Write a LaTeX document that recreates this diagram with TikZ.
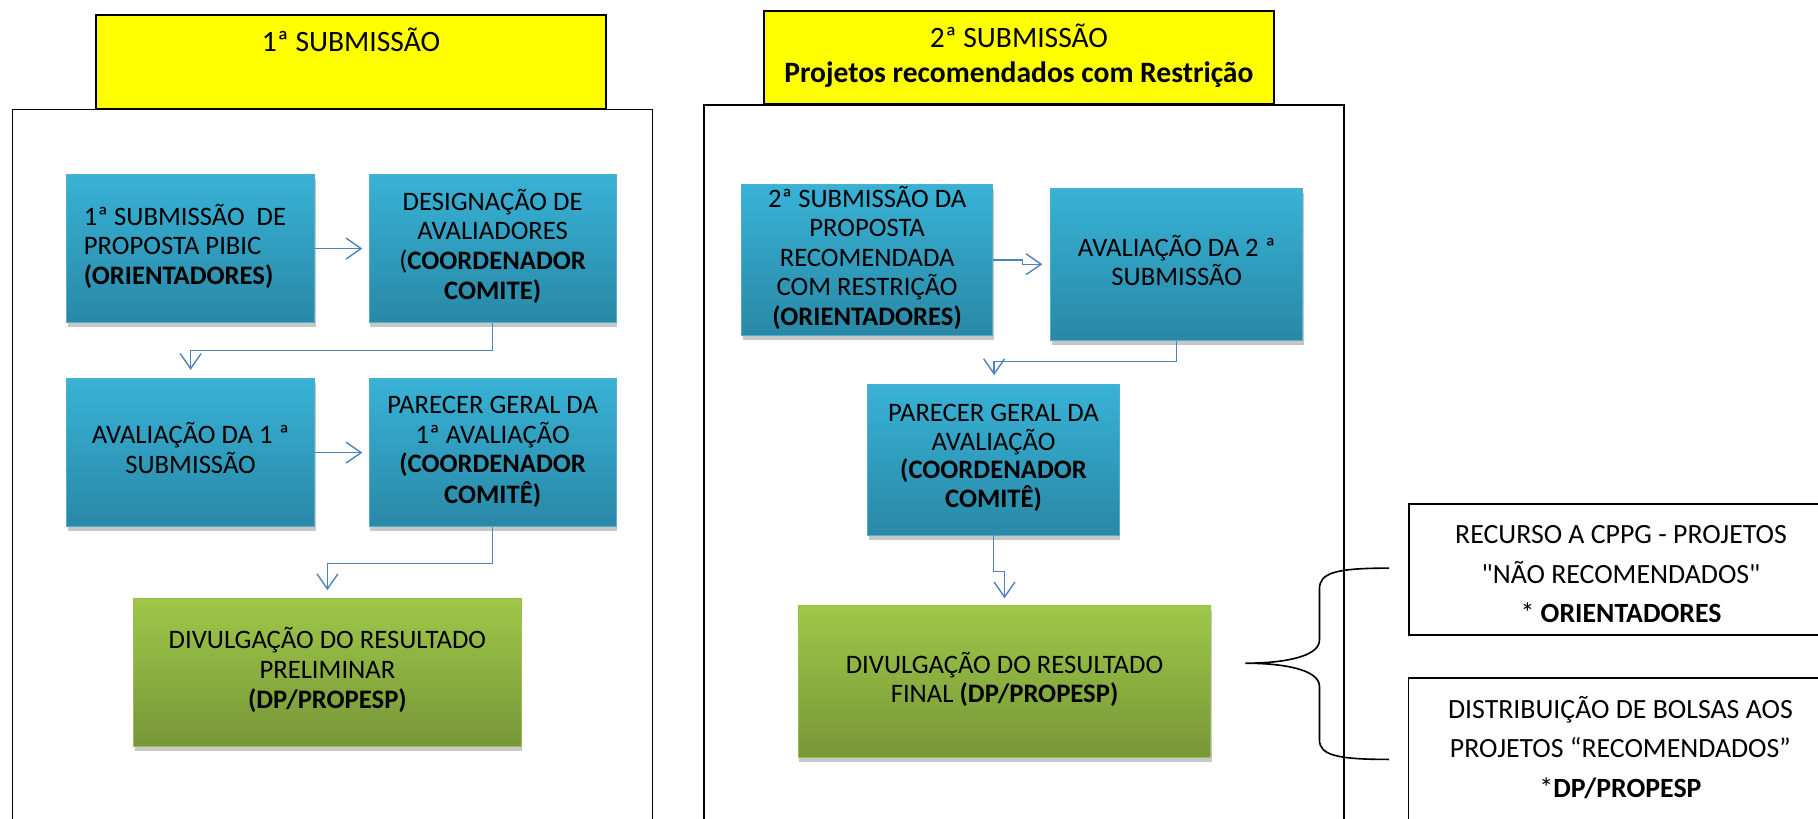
\documentclass[tikz,border=0pt]{standalone}
\usepackage{fontspec}
\newfontfamily\calfont{Carlito}
\usetikzlibrary{arrows.meta,shadows,calc}
\definecolor{btop}{RGB}{56,178,214}
\definecolor{bbot}{RGB}{41,136,166}
\definecolor{bedge}{RGB}{80,176,202}
\definecolor{gtop}{RGB}{158,199,72}
\definecolor{gbot}{RGB}{119,150,56}
\definecolor{gedge}{RGB}{155,190,80}
\definecolor{arrc}{RGB}{79,129,189}
\definecolor{hyellow}{RGB}{255,255,0}
\newcommand{\tb}[2][0pt]{\raisebox{#1}[\height][\depth]{\begin{tabular}{@{}c@{}}#2\end{tabular}}}
\newcommand{\tbl}[2]{\makebox[#1][l]{\begin{tabular}{@{}l@{}}#2\end{tabular}}}
\begin{document}
\begin{tikzpicture}[x=1pt,y=-1pt,
  every node/.style={font=\calfont\fontsize{23}{25.5}\selectfont, text=black},
  procbox/.style={anchor=north west, inner sep=0pt, line width=0.8pt,
    drop shadow={shadow xshift=1pt, shadow yshift=-4pt, opacity=0.22, fill=black}},
  bluebox/.style={procbox, draw=bedge, top color=btop, bottom color=bbot},
  greenbox/.style={procbox, draw=gedge, top color=gtop, bottom color=gbot},
  ybox/.style={draw=black, line width=1.6pt, fill=hyellow, anchor=north west, inner sep=0pt,
    font=\calfont\fontsize{25.5}{30.7}\selectfont},
  framebox/.style={draw=black, line width=1.3pt, anchor=north west, inner sep=0pt},
  wbox/.style={draw=black, line width=1.2pt, fill=white, anchor=north west, inner sep=0pt,
    font=\calfont\fontsize{24}{34}\selectfont},
  arr/.style={draw=arrc, line width=1.2pt, -{Straight Barb[length=13pt,width=18pt]}},
  bracel/.style={draw=black, line width=1.4pt}
]
\useasboundingbox (0,0) rectangle (1568,706);
\clip (0,0) rectangle (1568,706);
\fill[white] (0,0) rectangle (1568,706);

% frames
\node[framebox, minimum width=552, minimum height=700] (fr1) at (10,94) {};
\node[framebox, minimum width=552, minimum height=700] (fr2) at (606.5,90) {};

% headers
\node[ybox, minimum width=440, minimum height=81] (y1) at (82,12) {\tb[15pt]{1ª SUBMISSÃO}};
\node[ybox, minimum width=440, minimum height=80] (y2) at (658,9) {\tb{2ª SUBMISSÃO\\ \bfseries Projetos recomendados com Restrição}};

% left panel
\node[bluebox, minimum width=214, minimum height=128] (a1) at (57,150)
  {\tbl{184pt}{1ª SUBMISSÃO\ \ DE\\ PROPOSTA PIBIC\\ \textbf{(ORIENTADORES)}}};
\node[bluebox, minimum width=213, minimum height=128] (a2) at (318,150)
  {\tb{DESIGNAÇÃO DE\\ AVALIADORES\\ (\textbf{COORDENADOR}\\ \textbf{COMITE)}}};
\node[bluebox, minimum width=214, minimum height=128] (b1) at (57,326)
  {\tb{AVALIAÇÃO DA 1 ª\\ SUBMISSÃO}};
\node[bluebox, minimum width=213, minimum height=128] (b2) at (318,326)
  {\tb{PARECER GERAL DA\\ 1ª AVALIAÇÃO\\ \textbf{(COORDENADOR}\\ \textbf{COMITÊ)}}};
\node[greenbox, minimum width=334, minimum height=127] (c) at (115,516)
  {\tb{DIVULGAÇÃO DO RESULTADO\\ PRELIMINAR\\ \textbf{(DP/PROPESP)}}};

% right panel
\node[bluebox, minimum width=217, minimum height=130] (d1) at (639,159)
  {\def\arraystretch{0.985}\tb{2ª SUBMISSÃO DA\\ PROPOSTA\\ RECOMENDADA\\ COM RESTRIÇÃO\\ \textbf{(ORIENTADORES)}}};
\node[bluebox, minimum width=217, minimum height=131] (d2) at (906,162)
  {\def\arraystretch{0.85}\tb{AVALIAÇÃO DA 2 ª\\ SUBMISSÃO}};
\node[bluebox, minimum width=217, minimum height=130] (e) at (748,331)
  {\def\arraystretch{0.88}\tb{PARECER GERAL DA\\ AVALIAÇÃO\\ \textbf{(COORDENADOR}\\ \textbf{COMITÊ)}}};
\node[greenbox, minimum width=356, minimum height=131] (f) at (688,522)
  {\def\arraystretch{0.98}\tb{DIVULGAÇÃO DO RESULTADO\\ FINAL \textbf{(DP/PROPESP)}}};

% outcome boxes
\node[wbox, minimum width=366, minimum height=113] (g) at (1214.5,434)
  {\tb[-5pt]{RECURSO A CPPG - PROJETOS\\ "NÃO RECOMENDADOS"\\ {*} \textbf{ORIENTADORES}}};
\node[wbox, minimum width=366, minimum height=124] (h) at (1214,584)
  {\tb{DISTRIBUIÇÃO DE BOLSAS AOS\\ PROJETOS “RECOMENDADOS”\\ {*}\textbf{DP/PROPESP}}};

% connectors
\draw[arr, shorten >=5.5pt] (a1) -- (a2);
\draw[arr] (a2.south) -- ++(0,23.5) -| ([yshift=7pt]b1.north);
\draw[arr, shorten >=5.5pt] (b1) -- (b2);
\draw[arr] (b2.south) -- ++(0,31) -| ([yshift=7pt]c.north);

\draw[arr] (d1.east) -- ++(25,0) |- ([xshift=-7pt]d2.west);
\draw[arr] (d2.south) -- ++(0,18) -| ([xshift=0.5pt,yshift=7.5pt]e.north);
\draw[arr] (e.south) -- ++(0,31) -| ([yshift=6pt]f.north);

% brace
\coordinate (btop) at (1198,490);
\coordinate (bbot) at (1198,655);
\coordinate (btip) at (1074,572);
\draw[bracel] (btop) .. controls (1152,490) and (1138,494) .. (1138,508)
  -- (1138,552) .. controls (1138,567) and (1105,572) .. (btip)
  .. controls (1105,572) and (1138,577) .. (1138,592)
  -- (1138,638) .. controls (1138,651) and (1152,655) .. (bbot);
\end{tikzpicture}
\end{document}
